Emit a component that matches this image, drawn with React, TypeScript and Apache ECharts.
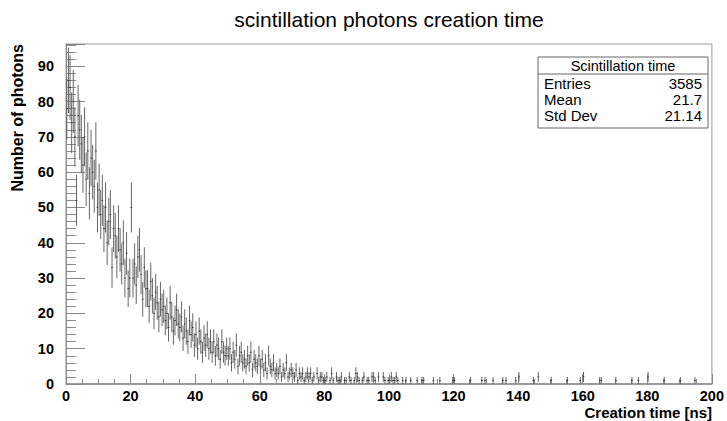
import React, { useEffect, useRef } from "react";
import * as echarts from "echarts";

const binWidth = 0.5;
// counts per 0.5 ns bin, 0–50 ns
const countsEarly = [
  78, 86, 84, 74, 80, 70, 52, 76, 72, 68,
  62, 70, 58, 66, 54, 64, 60, 56, 66, 50,
  55, 48, 52, 44, 50, 40, 46, 48, 33, 44,
  42, 36, 44, 38, 34, 40, 30, 37, 27, 30,
  50, 30, 34, 28, 36, 38, 31, 24, 33, 27,
  27, 22, 29, 25, 20, 26, 23, 19, 24, 21,
  22, 18, 20, 16, 23, 19, 15, 18, 21, 17,
  16, 19, 13, 17, 15, 12, 18, 14, 16, 11,
  14, 10, 15, 12, 9, 13, 11, 14, 10, 12,
  9, 12, 8, 11, 10, 7, 12, 9, 8, 10,
];
// counts per 0.5 ns bin, 50–115 ns
const countsMid = [
  8, 10, 6, 9, 7, 11, 5, 8, 9, 6,
  7, 5, 8, 6, 9, 4, 7, 6, 5, 8,
  5, 7, 4, 6, 3, 8, 5, 4, 6, 3,
  4, 3, 5, 2, 4, 3, 6, 2, 3, 4,
  3, 2, 4, 1, 3, 2, 3, 1, 2, 3,
  2, 3, 1, 2, 0, 3, 1, 2, 2, 1,
  1, 2, 0, 1, 3, 1, 0, 2, 1, 1,
  2, 0, 1, 1, 0, 2, 1, 0, 1, 3,
  2, 1, 0, 1, 2, 0, 1, 1, 0, 2,
  2, 1, 0, 2, 0, 0, 2, 1, 0, 1,
  1, 2, 1, 1, 2, 1, 0, 0, 1, 0,
  1, 0, 0, 1, 0, 0, 0, 1, 0, 0,
  1, 1, 0, 0, 0, 0, 0, 1, 0, 0,
];
// sparse tail beyond 115 ns: [bin centre (ns), count]
const tailHits: [number, number][] = [
  [115.75, 1], [119.75, 1], [120.25, 1], [125.25, 1], [128.75, 1],
  [129.75, 1], [132.25, 1], [135.25, 1], [136.25, 1], [139.25, 1],
  [140.25, 2], [144.75, 1], [146.25, 2], [150.25, 1], [155.25, 1],
  [159.25, 1], [160.25, 2], [165.25, 1], [165.75, 1], [170.25, 1],
  [175.25, 1], [177.25, 1], [180.25, 2], [185.25, 1], [190.25, 1],
  [194.75, 1],
];
const xTicks = [0, 20, 40, 60, 80, 100, 120, 140, 160, 180, 200];
const yTicks = [0, 10, 20, 30, 40, 50, 60, 70, 80, 90];
const statsRows: [string, string][] = [
  ["Entries", "3585"],
  ["Mean", "21.7"],
  ["Std Dev", "21.14"],
];

const W = 727;
const H = 421;
const G = { left: 66, right: 15, top: 44, bottom: 37 };
const Y_MAX = 96.3;

export default function App() {
  const ref = useRef<HTMLDivElement>(null);
  useEffect(() => {
    if (!ref.current) return;
    const chart = echarts.init(ref.current, undefined, { renderer: "svg" });
    const data: number[][] = [];
    const all = countsEarly.concat(countsMid);
    all.forEach((c, i) => {
      if (c > 0) data.push([(i + 0.5) * binWidth, c, Math.sqrt(c)]);
    });
    tailHits.forEach(([t, c]) => data.push([t, c, Math.sqrt(c)]));

    const stroke = "#666";
    const axisCol = "#8a8a8a";
    const font = "'Liberation Sans', Arial, Helvetica, sans-serif";

    const bx = 538, by = 57, bw = 170, rowH = 17;
    const graphics: any[] = [
      {
        type: "text",
        x: 389,
        y: 19,
        style: {
          text: "scintillation photons creation time",
          font: `21px ${font}`,
          fill: "#000",
          align: "center",
          verticalAlign: "middle",
        },
      },
      {
        type: "text",
        style: {
          text: "Creation time [ns]",
          font: `bold 15px ${font}`,
          fill: "#000",
          align: "right",
          verticalAlign: "middle",
        },
        x: W - G.right,
        y: 412,
      },
      {
        type: "text",
        style: {
          text: "Number of photons",
          font: `bold 16px ${font}`,
          fill: "#000",
          align: "right",
          verticalAlign: "middle",
        },
        x: 17,
        y: G.top,
        rotation: Math.PI / 2,
      },
      {
        type: "rect",
        shape: { x: bx, y: by, width: bw, height: 71 },
        style: { fill: "#fff", stroke: "#666", lineWidth: 1 },
      },
      {
        type: "line",
        shape: { x1: bx, y1: by + rowH, x2: bx + bw, y2: by + rowH },
        style: { stroke: "#666", lineWidth: 1 },
      },
      {
        type: "text",
        x: bx + bw / 2,
        y: by + 8.5,
        style: { text: "Scintillation time", font: `14.5px ${font}`, fill: "#000", align: "center", verticalAlign: "middle" },
      },
    ];
    statsRows.forEach(([k, v], i) => {
      const yy = by + 26 + i * 16;
      graphics.push({
        type: "text",
        x: bx + 6,
        y: yy,
        style: { text: k, font: `15px ${font}`, fill: "#000", align: "left", verticalAlign: "middle" },
      });
      graphics.push({
        type: "text",
        x: bx + bw - 6,
        y: yy,
        style: { text: v, font: `15px ${font}`, fill: "#000", align: "right", verticalAlign: "middle" },
      });
    });

    chart.setOption({
      animation: false,
      backgroundColor: "#fff",
      grid: {
        left: G.left,
        right: G.right,
        top: G.top,
        bottom: G.bottom,
        show: true,
        borderColor: "#9a9a9a",
        borderWidth: 1,
        backgroundColor: "transparent",
      },
      xAxis: [
        {
          type: "value",
          position: "bottom",
          min: 0,
          max: 200,
          interval: 20,
          axisLine: { show: true, onZero: false, lineStyle: { color: axisCol, width: 1.5 } },
          axisTick: { show: true, inside: true, length: 10, lineStyle: { color: axisCol } },
          minorTick: { show: true, splitNumber: 4, length: 5, lineStyle: { color: axisCol } },
          splitLine: { show: false },
          axisLabel: {
            show: true,
            margin: 4,
            color: "#000",
            fontFamily: font,
            fontWeight: "bold",
            fontSize: 14.5,
            formatter: (v: number) => (xTicks.includes(v) ? String(v) : ""),
          },
        },
      ],
      yAxis: [
        {
          type: "value",
          position: "left",
          min: 0,
          max: Y_MAX,
          interval: 2,
          axisLine: { show: true, lineStyle: { color: axisCol, width: 1 } },
          axisTick: { show: true, inside: true, length: 10, lineStyle: { color: axisCol } },
          splitLine: { show: false },
          axisLabel: {
            show: true,
            margin: 12,
            color: "#000",
            fontFamily: font,
            fontWeight: "bold",
            fontSize: 14.5,
            showMaxLabel: false,
            formatter: (v: number) => (yTicks.includes(Math.round(v * 1000) / 1000) ? String(Math.round(v)) : ""),
          },
        },
        {
          type: "value",
          position: "left",
          min: 0,
          max: Y_MAX,
          interval: 10,
          axisLine: { show: false },
          axisTick: { show: true, inside: true, length: 19, lineStyle: { color: axisCol } },
          splitLine: { show: false },
          axisLabel: { show: false },
        },
      ],
      series: [
        {
          type: "custom",
          xAxisIndex: 0,
          yAxisIndex: 0,
          data,
          clip: true,
          renderItem: (params: any, api: any) => {
            const t = api.value(0);
            const c = api.value(1);
            const e = api.value(2);
            const top = api.coord([t, c + e]);
            const bot = api.coord([t, Math.max(c - e, 0)]);
            const l = api.coord([t - binWidth / 2, c]);
            const r = api.coord([t + binWidth / 2, c]);
            return {
              type: "group",
              children: [
                {
                  type: "line",
                  shape: { x1: top[0], y1: top[1], x2: bot[0], y2: bot[1] },
                  style: { stroke, lineWidth: 1 },
                },
                {
                  type: "line",
                  shape: { x1: l[0], y1: l[1], x2: r[0], y2: r[1] },
                  style: { stroke: "#333", lineWidth: 1 },
                },
              ],
            };
          },
        },
      ],
      graphic: graphics,
    });
    return () => chart.dispose();
  }, []);
  return (
    <div
      ref={ref}
      style={{ position: "absolute", left: 0, top: 0, width: W, height: H, background: "#fff" }}
    />
  );
}
